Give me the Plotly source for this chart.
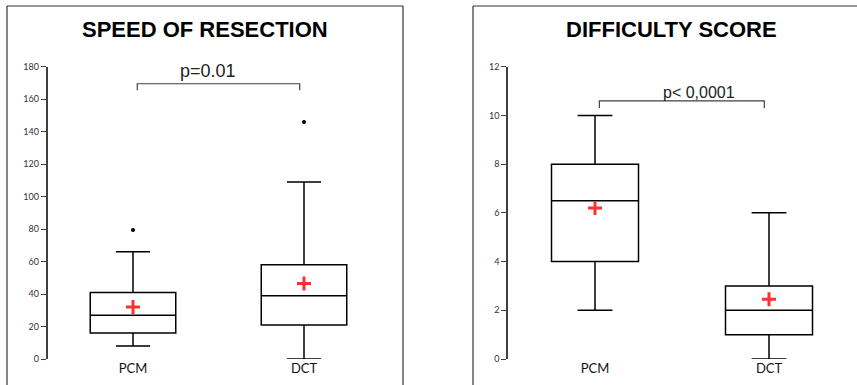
import plotly.graph_objects as go

W, H = 857, 385

categories = ["PCM", "DCT"]

# Speed of resection
speed_q1 = [16, 21]
speed_median = [27, 39]
speed_q3 = [41, 58]
speed_low = [8, 0]
speed_high = [66, 109]
speed_mean = [32, 46.5]
speed_outliers = [79.5, 146]
speed_p = "p=0.01"

# Difficulty score
diff_q1 = [4, 1]
diff_median = [6.5, 2]
diff_q3 = [8, 3]
diff_low = [2, 0]
diff_high = [10, 6]
diff_mean = [6.2, 2.45]
diff_p = "p< 0,0001"

xpos = [0, 1]

fig = go.Figure()

def px_x(p):
    return p / W

def px_y(p):
    return 1 - p / H

def add_panel(xa, ya, q1, med, q3, lo, hi, mean, outliers=None):
    for i in range(len(categories)):
        fig.add_trace(go.Box(
            x=[xpos[i]], q1=[q1[i]], median=[med[i]], q3=[q3[i]],
            lowerfence=[lo[i]], upperfence=[hi[i]],
            width=0.5, whiskerwidth=0.4,
            fillcolor="white", line=dict(color="black", width=1.5),
            xaxis=xa, yaxis=ya, showlegend=False, hoverinfo="skip"))
    fig.add_trace(go.Scatter(
        x=xpos, y=mean, mode="markers",
        marker=dict(symbol="cross-thin-open", size=10, color="#ff3030",
                    line=dict(color="#ff3030", width=3)),
        xaxis=xa, yaxis=ya, showlegend=False, hoverinfo="skip"))
    if outliers is not None:
        fig.add_trace(go.Scatter(
            x=xpos, y=outliers, mode="markers",
            marker=dict(symbol="circle", size=4, color="black"),
            xaxis=xa, yaxis=ya, showlegend=False, hoverinfo="skip"))

add_panel("x", "y", speed_q1, speed_median, speed_q3, speed_low, speed_high,
          speed_mean, speed_outliers)
add_panel("x2", "y2", diff_q1, diff_median, diff_q3, diff_low, diff_high,
          diff_mean)

# significance brackets
fig.add_trace(go.Scatter(x=[0.025, 0.025, 0.975, 0.975], y=[165.5, 169.5, 169.5, 165.5],
                         mode="lines", line=dict(color="#404040", width=1.2),
                         xaxis="x", yaxis="y", showlegend=False, hoverinfo="skip"))
fig.add_trace(go.Scatter(x=[0.025, 0.025, 0.973, 0.973], y=[10.3, 10.6, 10.6, 10.3],
                         mode="lines", line=dict(color="#404040", width=1.2),
                         xaxis="x2", yaxis="y2", showlegend=False, hoverinfo="skip"))

ydom = [px_y(359), px_y(66.7)]
tickfont = dict(family="Lato, Liberation Sans, sans-serif", size=9, color="#333333")
catfont = dict(family="Lato, Liberation Sans, sans-serif", size=13, color="#111111")

common_x = dict(range=[-0.5, 1.5], tickvals=xpos, ticktext=categories,
                showline=False, showgrid=False, zeroline=False, ticks="",
                tickfont=catfont, fixedrange=True, automargin=False)
common_y = dict(showline=True, linecolor="#404040", linewidth=1.5,
                showgrid=False, zeroline=False, ticks="outside", ticklen=5,
                tickcolor="#404040", tickwidth=1.2, tickfont=tickfont,
                fixedrange=True, automargin=False)

fig.update_layout(
    width=W, height=H,
    margin=dict(l=0, r=0, t=0, b=0, pad=0),
    paper_bgcolor="white", plot_bgcolor="white",
    showlegend=False, hovermode=False,
    xaxis=dict(domain=[px_x(47.5), px_x(389.5)], anchor="y", **common_x),
    yaxis=dict(domain=ydom, anchor="x", range=[0, 180], tickvals=list(range(0, 181, 20)), **common_y),
    xaxis2=dict(domain=[px_x(508), px_x(856)], anchor="y2", **common_x),
    yaxis2=dict(domain=ydom, anchor="x2", range=[0, 12], tickvals=list(range(0, 13, 2)), **common_y),
)

title_font = dict(family="Liberation Sans, Arial, sans-serif", size=22, color="black")
fig.add_annotation(text="<b>SPEED OF RESECTION</b>", x=px_x(205), y=px_y(29),
                   xref="paper", yref="paper", xanchor="center", yanchor="middle",
                   showarrow=False, font=title_font)
fig.add_annotation(text="<b>DIFFICULTY SCORE</b>", x=px_x(671), y=px_y(29),
                   xref="paper", yref="paper", xanchor="center", yanchor="middle",
                   showarrow=False, font=title_font)

fig.add_annotation(text=speed_p, x=0.44, y=177.5, xref="x", yref="y",
                   xanchor="center", yanchor="middle", showarrow=False,
                   font=dict(family="Liberation Sans, Arial, sans-serif", size=18, color="#222222"))
fig.add_annotation(text=diff_p, x=0.6, y=10.95, xref="x2", yref="y2",
                   xanchor="center", yanchor="middle", showarrow=False,
                   font=dict(family="Liberation Sans, Arial, sans-serif", size=16, color="#222222"))

# panel borders
bc = dict(color="#333333", width=1.2)
top = px_y(6)
fig.add_shape(type="line", xref="paper", yref="paper", x0=px_x(7), x1=px_x(7), y0=-0.05, y1=top, line=bc)
fig.add_shape(type="line", xref="paper", yref="paper", x0=px_x(403), x1=px_x(403), y0=-0.05, y1=top, line=bc)
fig.add_shape(type="line", xref="paper", yref="paper", x0=px_x(7), x1=px_x(403), y0=top, y1=top, line=bc)
fig.add_shape(type="line", xref="paper", yref="paper", x0=px_x(473), x1=px_x(473), y0=-0.05, y1=top, line=bc)
fig.add_shape(type="line", xref="paper", yref="paper", x0=px_x(473), x1=1.01, y0=top, y1=top, line=bc)

fig.write_html("out.html", post_script="document.body.style.margin='0px';",
               config={"displayModeBar": False})
